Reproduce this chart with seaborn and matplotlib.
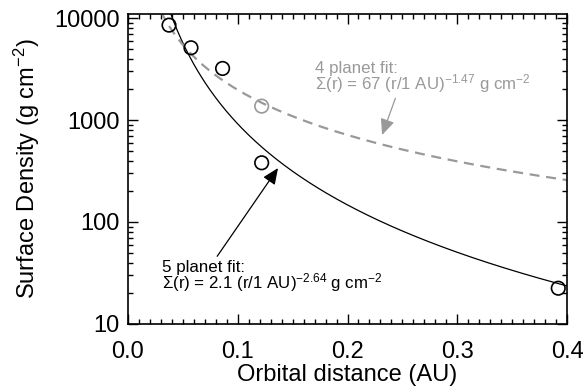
import numpy as np
import pandas as pd
import matplotlib
matplotlib.use("Agg")
import matplotlib.pyplot as plt
import seaborn as sns
from matplotlib.ticker import FixedLocator, FixedFormatter, MultipleLocator

# Data
dist_5 = [0.0374, 0.0574, 0.0862, 0.1218, 0.392]
sigma_5 = [8540, 5120, 3210, 381, 22.4]
dist_gray = [0.1218]
sigma_gray = [1370]

# Fit parameters given in the chart annotations: Sigma(r) = A (r/1 AU)^p
fit_names = ["5 planet fit", "4 planet fit"]
fit_coef = [2.1, 67.0]
fit_exp = [-2.64, -1.47]

ytick_vals = [10, 100, 1000, 10000]
ytick_labels = ["10", "100", "1000", "10000"]
xtick_vals = [0.0, 0.1, 0.2, 0.3, 0.4]
xtick_labels = ["0.0", "0.1", "0.2", "0.3", "0.4"]

sns.set_style("ticks")
plt.rcParams['font.family'] = ['Liberation Sans', 'DejaVu Sans']
plt.rcParams['mathtext.fontset'] = 'custom'
plt.rcParams['mathtext.rm'] = 'Liberation Sans'
plt.rcParams['mathtext.it'] = 'Liberation Sans'
plt.rcParams['mathtext.default'] = 'regular'
plt.rcParams['text.color'] = 'black'
plt.rcParams['axes.labelcolor'] = 'black'
plt.rcParams['xtick.color'] = 'black'
plt.rcParams['ytick.color'] = 'black'

fig = plt.figure(figsize=(5.87, 3.87), dpi=100)
ax = fig.add_axes([0.218, 0.163, 0.748, 0.801])

rgrid = np.linspace(0.03, 0.4, 300)
fit_df = pd.DataFrame({
    "r": np.concatenate([rgrid, rgrid]),
    "sigma": np.concatenate([fit_coef[0] * rgrid ** fit_exp[0],
                             fit_coef[1] * rgrid ** fit_exp[1]]),
    "fit": [fit_names[0]] * len(rgrid) + [fit_names[1]] * len(rgrid),
})
sns.lineplot(data=fit_df[fit_df.fit == fit_names[0]], x="r", y="sigma", ax=ax,
             color="black", lw=0.9, legend=False)
sns.lineplot(data=fit_df[fit_df.fit == fit_names[1]], x="r", y="sigma", ax=ax,
             color="#999999", lw=1.6, dashes=False, legend=False,
             linestyle=(0, (4.5, 3)))

sns.scatterplot(x=dist_gray, y=sigma_gray, ax=ax, s=95, facecolor="none",
                edgecolor="#999999", linewidth=1.2, zorder=5)
sns.scatterplot(x=dist_5, y=sigma_5, ax=ax, s=95, facecolor="none",
                edgecolor="black", linewidth=1.2, zorder=6, clip_on=False)

ax.set_yscale("log")
ax.set_xlim(0.0, 0.4)
ax.set_ylim(10, 11000)

ax.xaxis.set_major_locator(FixedLocator(xtick_vals))
ax.xaxis.set_major_formatter(FixedFormatter(xtick_labels))
ax.xaxis.set_minor_locator(MultipleLocator(0.01))
ax.yaxis.set_major_locator(FixedLocator(ytick_vals))
ax.yaxis.set_major_formatter(FixedFormatter(ytick_labels))
ax.yaxis.set_minor_locator(matplotlib.ticker.LogLocator(base=10, subs=np.arange(2, 10)))
ax.yaxis.set_minor_formatter(matplotlib.ticker.NullFormatter())

ax.tick_params(which="both", direction="in", top=True, right=True, width=1.0, colors="black")
ax.tick_params(which="major", length=7, labelsize=17)
ax.tick_params(axis="y", which="major", pad=6)
ax.tick_params(axis="x", which="major", pad=12)
ax.tick_params(which="minor", length=3.5)
for s in ax.spines.values():
    s.set_linewidth(1.2)
    s.set_color("black")

ax.set_xlabel("Orbital distance (AU)", fontsize=17, labelpad=1)
ax.set_ylabel("Surface Density (g cm$^{-2}$)", fontsize=17, labelpad=9)

ax.annotate("4 planet fit:\n$\\Sigma$(r) = 67 (r/1 AU)$^{-1.47}$ g cm$^{-2}$",
            xy=(0.2315, 713), xytext=(0.170, 2600), color="#999999",
            fontsize=12.2, linespacing=0.8, ha="left", va="center",
            arrowprops=dict(arrowstyle="-|>,head_length=0.8,head_width=0.35",
                            color="#999999", lw=0.9, shrinkA=0, shrinkB=0,
                            relpos=(0.38, 0.0)))
ax.annotate("5 planet fit:\n$\\Sigma$(r) = 2.1 (r/1 AU)$^{-2.64}$ g cm$^{-2}$",
            xy=(0.1367, 338), xytext=(0.031, 29), color="black",
            fontsize=12.2, linespacing=0.8, ha="left", va="center",
            arrowprops=dict(arrowstyle="-|>,head_length=0.8,head_width=0.35",
                            color="black", lw=0.9, shrinkA=0, shrinkB=0,
                            relpos=(0.24, 1.0)))

fig.savefig("out.png", dpi=100)
